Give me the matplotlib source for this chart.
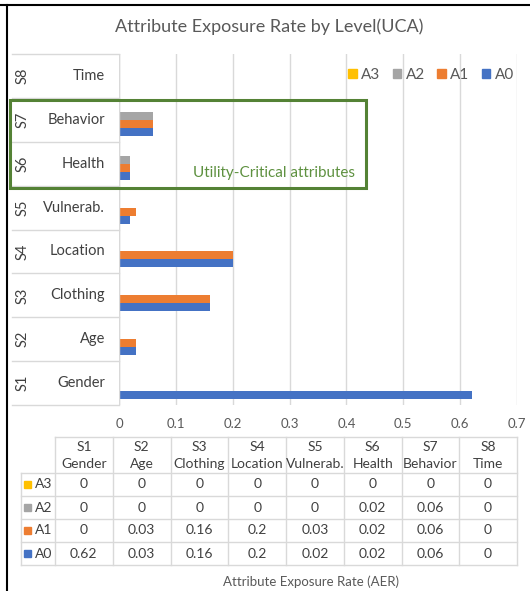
import numpy as np
import matplotlib.pyplot as plt
import matplotlib.transforms as mtransforms
from matplotlib.lines import Line2D
from matplotlib.patches import Rectangle

plt.rcParams['font.family'] = ['Lato', 'DejaVu Sans']

# data (S1 .. S8)
codes = ["S1", "S2", "S3", "S4", "S5", "S6", "S7", "S8"]
names = ["Gender", "Age", "Clothing", "Location", "Vulnerab.", "Health", "Behavior", "Time"]
a0 = [0.62, 0.03, 0.16, 0.2, 0.02, 0.02, 0.06, 0]
a1 = [0, 0.03, 0.16, 0.2, 0.03, 0.02, 0.06, 0]
a2 = [0, 0, 0, 0, 0, 0.02, 0.06, 0]
a3 = [0, 0, 0, 0, 0, 0, 0, 0]
series = ["A0", "A1", "A2", "A3"]
colors = ["#4472C4", "#ED7D31", "#A5A5A5", "#FFC000"]
xticks = [0, 0.1, 0.2, 0.3, 0.4, 0.5, 0.6, 0.7]

W, H = 530, 591
txt_dark = "#404040"
txt_gray = "#595959"
grid_c = "#D9D9D9"
green = "#548235"

fig = plt.figure(figsize=(W / 100, H / 100), dpi=100)


def fx(px):
    return px / W


def fy(py):
    return 1 - py / H


def fline(x0, y0, x1, y1, **kw):
    fig.add_artist(Line2D([fx(x0), fx(x1)], [fy(y0), fy(y1)], transform=fig.transFigure, **kw))


# plot area
left, right, top, bottom = 119, 517, 54, 405
ax = fig.add_axes([fx(left), fy(bottom), fx(right) - fx(left), fy(top) - fy(bottom)])
ax.set_xlim(0, 0.7)
ax.set_ylim(-0.5, 7.5)
for s in ax.spines.values():
    s.set_visible(False)
ax.set_xticks(xticks)
ax.set_xticklabels([f"{t:g}" for t in xticks], color=txt_gray, fontsize=9.5)
ax.tick_params(axis="x", length=0, pad=9)
ax.set_yticks([])
ax.grid(axis="x", color=grid_c, lw=1)
ax.set_axisbelow(True)
ax.axvline(0, color=grid_c, lw=1)

pos = np.arange(len(codes))
h = 0.182
vals = [a0, a1, a2, a3]
for k in range(4):
    ax.barh(pos + (k - 1.5) * h, vals[k], height=h, color=colors[k], label=series[k])

# category labels on the left, in cells
bt = mtransforms.blended_transform_factory(fig.transFigure, ax.transData)
for i in range(len(codes)):
    ax.text(fx(23), i, codes[i], transform=bt, rotation=90, ha="center", va="center",
            fontsize=10.5, color=txt_dark)
    ax.text(fx(105), i, names[i], transform=bt, ha="right", va="center",
            fontsize=10.5, color=txt_dark)
for i in range(len(codes) + 1):
    ax.add_artist(Line2D([fx(12), fx(left)], [i - 0.5, i - 0.5], transform=bt,
                         color=grid_c, lw=1, clip_on=False))

# legend
handles = [Rectangle((0, 0), 1, 1, color=colors[k]) for k in [3, 2, 1, 0]]
fig.legend(handles, [series[k] for k in [3, 2, 1, 0]], loc="center right",
           bbox_to_anchor=(fx(514), fy(75)), ncol=4, frameon=False, fontsize=11,
           handlelength=0.55, handleheight=0.55, handletextpad=0.3, columnspacing=0.8,
           labelcolor=txt_gray, borderpad=0, borderaxespad=0)

# title
fig.text(fx(269), fy(27), "Attribute Exposure Rate by Level(UCA)", ha="center", va="center",
         fontsize=13, color=txt_gray)

# utility-critical box
fig.add_artist(Rectangle((fx(10), fy(188)), fx(366) - fx(10), fy(100) - fy(188),
                         transform=fig.transFigure, fill=False, ec=green, lw=2.2))
fig.text(fx(274), fy(173), "Utility-Critical attributes", ha="center", va="center",
         fontsize=11, color="#5E9140")

# data table
t_left, t_right = 55, 517
lab_left = 21
cw = (t_right - t_left) / len(codes)
hdr_top, hdr_bot = 437, 473
rh = 23
rows = [a3, a2, a1, a0]
row_names = ["A3", "A2", "A1", "A0"]
row_cols = [colors[3], colors[2], colors[1], colors[0]]
tab_bot = hdr_bot + rh * len(rows)

fline(t_left, hdr_top, t_right, hdr_top, color=grid_c, lw=1)
for r in range(len(rows) + 1):
    y = hdr_bot + r * rh
    fline(lab_left, y, t_right, y, color=grid_c, lw=1)
fline(lab_left, hdr_bot, lab_left, tab_bot, color=grid_c, lw=1)
for c in range(len(codes) + 1):
    x = t_left + c * cw
    fline(x, hdr_top, x, tab_bot, color=grid_c, lw=1)

for c in range(len(codes)):
    xc = t_left + (c + 0.5) * cw
    fig.text(fx(xc), fy(447), codes[c], ha="center", va="center", fontsize=10, color=txt_dark)
    fig.text(fx(xc), fy(464), names[c], ha="center", va="center", fontsize=10, color=txt_dark)
    for r in range(len(rows)):
        yc = hdr_bot + (r + 0.5) * rh
        fig.text(fx(xc), fy(yc), f"{rows[r][c]:g}", ha="center", va="center",
                 fontsize=10, color=txt_dark)

for r in range(len(rows)):
    yc = hdr_bot + (r + 0.5) * rh
    fig.add_artist(Rectangle((fx(24), fy(yc + 3.5)), fx(7), fy(0) - fy(7),
                             transform=fig.transFigure, color=row_cols[r]))
    fig.text(fx(34.5), fy(yc), row_names[r], ha="left", va="center", fontsize=10, color=txt_dark)

# axis title
fig.text(fx(311), fy(582), "Attribute Exposure Rate (AER)", ha="center", va="center",
         fontsize=9.5, color=txt_gray)

# outer frame (top and left edges)
fline(0, 5, W, 5, color="black", lw=1.5)
fline(7, 5, 7, H, color="black", lw=1.5)

fig.savefig("out.png", dpi=100, facecolor="white")
